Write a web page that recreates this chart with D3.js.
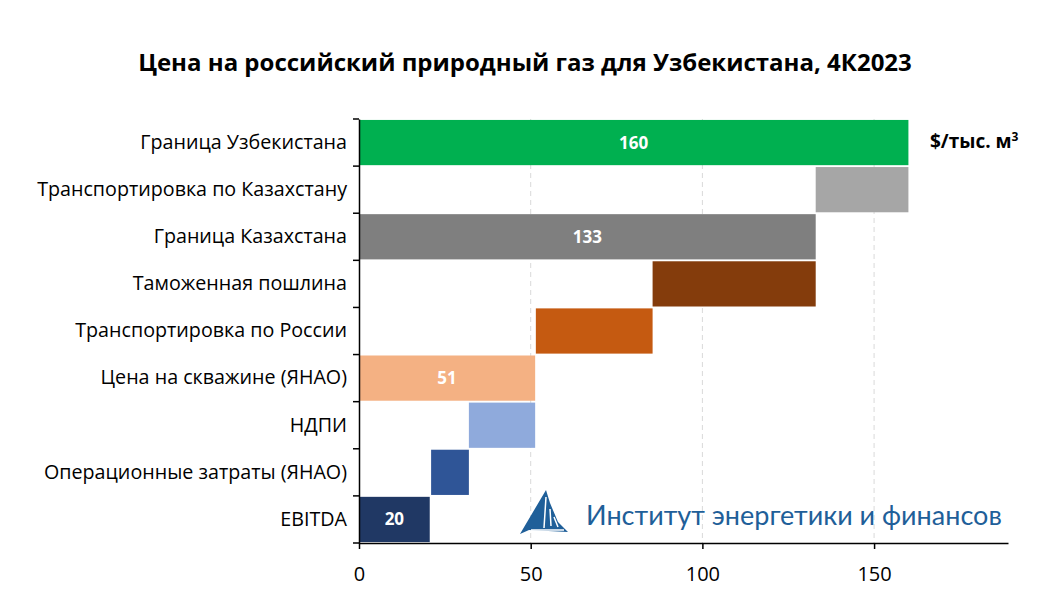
<!DOCTYPE html>
<html>
<head>
<meta charset="utf-8">
<script src="https://cdn.jsdelivr.net/npm/d3@7"></script>
<style>
  body { margin: 0; background: #fff; }
  text { font-family: "Open Sans", "Liberation Sans", sans-serif; }
</style>
</head>
<body>
<svg id="chart" width="1050" height="614"></svg>
<script>
// data
var categories = ["Граница Узбекистана", "Транспортировка по Казахстану", "Граница Казахстана",
    "Таможенная пошлина", "Транспортировка по России", "Цена на скважине (ЯНАО)", "НДПИ",
    "Операционные затраты (ЯНАО)", "EBITDA"];
var barStart = [0, 133, 0, 85.5, 51.5, 0, 32, 21, 0];
var barEnd = [160, 160, 133, 133, 85.5, 51.3, 51.3, 32, 20.6];
var barLabels = ["160", "", "133", "", "", "51", "", "", "20"];
var barColors = ["#00b050", "#a6a6a6", "#7f7f7f", "#843c0c", "#c55a11", "#f4b183", "#8faadc", "#2f5597", "#203864"];
var xTicks = [0, 50, 100, 150];

var svg = d3.select("#chart");
var width = 1050, height = 614;

var x = d3.scaleLinear().domain([0, 189]).range([359, 1008]);
var y = d3.scaleBand().domain(categories).range([119, 543]).paddingInner(0.04).paddingOuter(0.02);

var rows = categories.map(function (c, i) {
    return {cat: c, start: barStart[i], end: barEnd[i], label: barLabels[i], color: barColors[i]};
});

// title
svg.append("text")
    .attr("x", 525).attr("y", 71)
    .attr("text-anchor", "middle")
    .style("font-size", "24px").style("font-weight", "bold")
    .text("Цена на российский природный газ для Узбекистана, 4К2023");

// grid
svg.append("g").selectAll("line")
    .data(xTicks.slice(1))
    .enter().append("line")
    .attr("x1", function (d) { return x(d); })
    .attr("x2", function (d) { return x(d); })
    .attr("y1", 119).attr("y2", 543)
    .attr("stroke", "#d9d9d9")
    .attr("stroke-dasharray", "5,4");

// bars
svg.append("g").selectAll("rect")
    .data(rows)
    .enter().append("rect")
    .attr("x", function (d) { return x(d.start); })
    .attr("width", function (d) { return x(d.end) - x(d.start); })
    .attr("y", function (d) { return y(d.cat); })
    .attr("height", y.bandwidth())
    .attr("fill", function (d) { return d.color; });

svg.append("g").selectAll("text")
    .data(rows.filter(function (d) { return d.label; }))
    .enter().append("text")
    .attr("x", function (d) { return (x(d.start) + x(d.end)) / 2; })
    .attr("y", function (d) { return y(d.cat) + y.bandwidth() / 2; })
    .attr("dy", "0.35em")
    .attr("text-anchor", "middle")
    .attr("fill", "#fff")
    .style("font-size", "17px").style("font-weight", "bold")
    .text(function (d) { return d.label; });

// axes
var yAxis = svg.append("g")
    .attr("transform", "translate(359,0)")
    .call(d3.axisLeft(y).tickSize(0).tickPadding(12));
yAxis.select(".domain").attr("stroke", "#000").attr("stroke-width", 1.5);
yAxis.selectAll("text").style("font-size", "19.7px").attr("fill", "#000")
    .style("font-family", "'Open Sans', sans-serif");

// band boundary ticks
var bounds = categories.map(function (c) { return y(c) - y.step() * y.paddingInner() / 2; });
bounds.push(543);
bounds[0] = 119;
svg.append("g").selectAll("line")
    .data(bounds)
    .enter().append("line")
    .attr("x1", 353).attr("x2", 359)
    .attr("y1", function (d) { return d; }).attr("y2", function (d) { return d; })
    .attr("stroke", "#000").attr("stroke-width", 1.5);

var xAxis = svg.append("g")
    .attr("transform", "translate(0,543)")
    .call(d3.axisBottom(x).tickValues(xTicks).tickSize(6).tickSizeOuter(0).tickPadding(18));
xAxis.select(".domain").attr("stroke", "#000").attr("stroke-width", 1.5);
xAxis.selectAll(".tick line").attr("stroke", "#000").attr("stroke-width", 1.5);
xAxis.selectAll("text").style("font-size", "20px").attr("fill", "#000")
    .style("font-family", "'Open Sans', sans-serif");

// units
var unit = svg.append("text")
    .attr("x", 930).attr("y", 148)
    .style("font-size", "19px").style("font-weight", "bold");
unit.append("tspan").text("$/тыс. м");
unit.append("tspan").attr("dy", -7).style("font-size", "12px").text("3");

// logo
var logo = svg.append("g").attr("transform", "translate(519,489)");
logo.append("path")
    .attr("d", "M27,1 L1,45 L10,41 L49,43 L39,33 L31,14 Z")
    .attr("fill", "#1f5f99");
logo.append("path")
    .attr("d", "M27,8 L25,39 M31,20 L32,37 M35,28 L39,38 M12,41 L45,41")
    .attr("stroke", "#fff").attr("stroke-width", 1.5).attr("fill", "none");
svg.append("text")
    .attr("x", 586).attr("y", 525)
    .attr("fill", "#1f5f99")
    .style("font-size", "27px")
    .style("font-family", "Lato, sans-serif")
    .text("Институт энергетики и финансов");
</script>
</body>
</html>
